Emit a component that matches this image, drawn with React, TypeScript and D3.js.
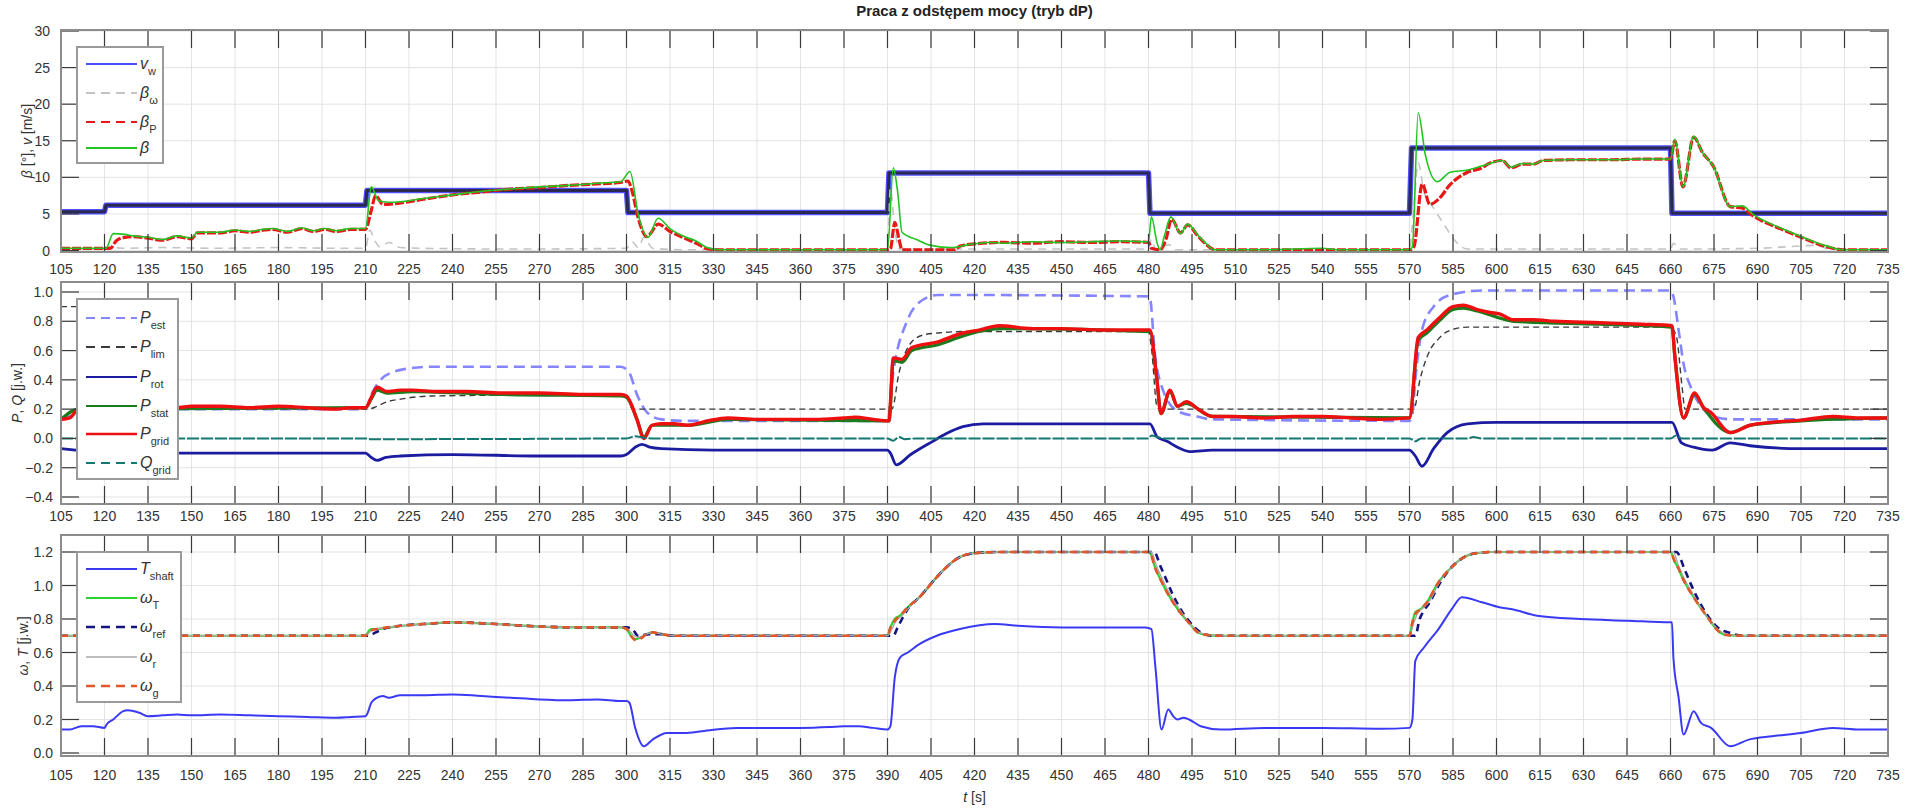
import React from "react";
import * as d3 from "d3";

type P = [number, number];

// ---------- ticks ----------
const xTicks: number[] = d3.range(105, 736, 15);
const topTicks = [0, 5, 10, 15, 20, 25, 30];
const midTicks = [-0.4, -0.2, 0, 0.2, 0.4, 0.6, 0.8, 1.0];
const botTicks = [0, 0.2, 0.4, 0.6, 0.8, 1.0, 1.2];

// ---------- top panel data ----------
const vW: P[] = [[105,5.3],[120,5.3],[120.5,6.2],[210,6.2],[210.5,8.2],[300,8.2],[300.5,5.2],[390,5.2],[390.5,10.6],[480,10.6],[480.5,5.1],[570,5.1],[570.7,14.0],[660,14.0],[660.5,5.1],[735,5.1]];
const betaW: P[] = [[105,0.2],[120,0.2],[122,0.5],[126,0.3],[140,0.4],[160,0.3],[180,0.4],[200,0.3],[210,0.3],[211.5,2.8],[213,1.5],[215,0.5],[218,1.1],[222,0.4],[230,0.3],[260,0.2],[300,0.3],[302,1.2],[304,0.4],[306,1.8],[309,0.3],[320,0.1],[390,0.1],[391,8.5],[392.5,3],[394,0.2],[420,0.2],[480,0.2],[481,1.5],[482.5,0.1],[487,0.8],[489,0.1],[570,0.1],[571.5,6],[573,12],[575,8],[578,6],[582,3.5],[586,1.2],[590,0.2],[660,0.2],[661,1.0],[663,0.2],[690,0.3],[700,0.5],[710,0.7],[715,0.2],[735,0.1]];
const betaP: P[] = [[105,0.3],[121,0.3],[122,0.3],[124,1.3],[127,1.8],[130,1.9],[135,1.7],[140,1.4],[145,1.9],[150,1.6],[152,2.4],[160,2.4],[165,2.7],[170,2.5],[175,2.8],[178,2.9],[183,2.5],[188,3.0],[192,2.6],[196,2.9],[200,2.6],[205,2.9],[210,2.9],[212,5.5],[213.5,7.5],[216,6.3],[220,6.4],[230,7.0],[240,7.6],[250,8.0],[260,8.4],[270,8.6],[280,8.9],[290,9.1],[298,9.3],[300.5,9.5],[302,8],[304,4.5],[307,1.9],[311,3.6],[315,2.6],[320,1.7],[325,0.8],[328,0.2],[332,0.1],[390,0.1],[391,0.2],[392.5,3.8],[394,1.5],[395,0.1],[413,0.1],[415,0.6],[420,0.9],[430,1.1],[440,1.0],[450,1.2],[460,1.1],[470,1.2],[480,1.1],[481,0.3],[484,0.1],[486,1.5],[488,4.3],[491,2.4],[493.5,3.5],[497,2.0],[500,0.8],[503,0.1],[570,0.1],[571.5,0.5],[574.4,9.1],[577,6.3],[580,7.0],[584,9.0],[590,10.7],[595,11.3],[597,11.8],[602,12.3],[605,11.3],[609,11.8],[612.6,11.8],[616,12.3],[625,12.4],[640,12.4],[650,12.5],[660,12.5],[661.5,15.0],[664.3,8.7],[668,15.5],[671,13.4],[674.8,11.5],[680.6,6.0],[684.7,5.8],[688.6,4.7],[699,2.8],[705.7,1.7],[714,0.5],[719.5,0.1],[735,0.1]];
const beta: P[] = [[105,0.3],[120,0.3],[120.5,0.3],[123,2.3],[127,2.2],[130,2.0],[135,1.8],[140,1.5],[145,2.0],[150,1.7],[152,2.5],[160,2.5],[165,2.8],[170,2.6],[175,2.9],[178,3.0],[183,2.6],[188,3.1],[192,2.7],[196,3.0],[200,2.7],[205,3.0],[210,3.0],[212,8.7],[214.5,6.8],[218,6.6],[220,6.6],[230,7.1],[240,7.6],[250,8.1],[260,8.4],[270,8.7],[280,8.9],[290,9.2],[298,9.4],[301.2,10.8],[304,5],[307.4,1.8],[310.9,4.4],[315,3.0],[320,1.9],[324,1.3],[327.8,0.4],[332,0.1],[390,0.1],[392,11.3],[393.5,8],[395,2.5],[400,1.5],[405,0.7],[412,0.4],[418,0.8],[425,1.1],[430,1.0],[440,1.2],[450,1.1],[460,1.2],[470,1.3],[480,1.2],[481,4.6],[483,1.0],[484,0.1],[485.5,2],[487.7,4.6],[491,2.3],[493.5,3.6],[497,2.1],[500,0.9],[502.5,0.1],[520,0.1],[540,0.3],[545,0.1],[570,0.1],[571,0.5],[573,18.8],[575.5,13],[579.6,9.4],[584,10.7],[590,11.0],[597,11.8],[602,12.3],[605,11.4],[609,11.9],[612.6,11.8],[616,12.3],[625,12.4],[640,12.4],[650,12.5],[660,12.5],[661.5,15.2],[664.3,8.7],[668,15.6],[671,13.4],[674.8,11.5],[680.6,6.0],[684.7,6.1],[688.6,4.9],[699,2.9],[705.7,1.8],[714,0.6],[719.5,0.1],[735,0.1]];

// ---------- middle panel data ----------
const pEst: P[] = [[105,0.13],[108,0.15],[112,0.19],[116,0.2],[210,0.2],[212,0.3],[215.7,0.41],[219,0.45],[222.6,0.47],[233,0.49],[298,0.49],[300.9,0.45],[303.6,0.3],[307,0.18],[312,0.13],[320,0.12],[390,0.12],[392,0.45],[396.7,0.8],[401,0.93],[407.4,0.98],[480,0.97],[480.5,0.96],[482.2,0.58],[485,0.33],[489.8,0.19],[496.7,0.15],[502,0.13],[570,0.12],[570.9,0.15],[572,0.4],[574.3,0.74],[578.3,0.9],[584,0.98],[595,1.01],[660,1.01],[661,0.97],[662.8,0.74],[664.5,0.51],[667,0.35],[670.5,0.22],[674.8,0.15],[681.6,0.13],[735,0.13]];
const pLim: P[] = [[105,0.9],[112,0.9],[113,0.2],[210,0.2],[211,0.2],[214,0.22],[217.4,0.25],[222.6,0.27],[233,0.29],[300,0.3],[301,0.25],[302,0.2],[390,0.2],[391.5,0.2],[394,0.45],[398.4,0.66],[403,0.71],[407.4,0.72],[416,0.73],[480,0.73],[481,0.62],[483,0.21],[484,0.2],[570,0.2],[571.5,0.2],[573.6,0.4],[577,0.6],[580,0.68],[583,0.73],[590,0.76],[660,0.76],[662,0.7],[664,0.35],[665,0.2],[735,0.2]];
const pRot: P[] = [[105,-0.07],[110,-0.08],[115,-0.09],[125,-0.1],[150,-0.1],[180,-0.1],[200,-0.1],[210,-0.1],[212,-0.13],[214,-0.15],[217,-0.13],[222,-0.12],[240,-0.11],[270,-0.12],[298,-0.12],[300,-0.11],[303,-0.06],[305.3,-0.04],[308,-0.06],[312,-0.07],[330,-0.08],[390,-0.08],[391,-0.1],[393,-0.18],[398,-0.11],[405.6,-0.02],[410,0.03],[416,0.08],[423,0.1],[480.5,0.1],[483,0.01],[486.4,-0.02],[490,-0.06],[494.3,-0.09],[502,-0.08],[570,-0.08],[572,-0.12],[574.3,-0.19],[578.3,-0.07],[583,0.04],[590,0.1],[600,0.11],[660.5,0.11],[663.8,-0.03],[668,-0.06],[674.3,-0.08],[680.6,-0.03],[687.4,-0.05],[705,-0.07],[735,-0.07]];
const pStat: P[] = [[105,0.13],[111,0.2],[210,0.21],[212,0.27],[214,0.33],[217.4,0.31],[226,0.32],[257,0.3],[298,0.29],[300,0.28],[303.6,0.13],[306,0.01],[308.8,0.09],[321,0.09],[335,0.13],[390.5,0.12],[392,0.53],[395,0.52],[398.4,0.6],[407.4,0.64],[416,0.7],[421.5,0.73],[428.5,0.75],[480.5,0.73],[482.9,0.4],[484.3,0.17],[487.4,0.32],[490,0.22],[493,0.24],[502,0.15],[570,0.14],[573,0.67],[576,0.72],[580.6,0.81],[585,0.88],[588.6,0.89],[593.4,0.87],[605.9,0.8],[635.6,0.78],[660.5,0.76],[661.5,0.56],[664.5,0.14],[668.3,0.3],[671.4,0.21],[680.6,0.04],[687.4,0.09],[705,0.12],[735,0.14]];
const pGrid: P[] = [[105,0.13],[108,0.14],[111,0.2],[115,0.21],[125,0.21],[135,0.22],[145,0.21],[150,0.22],[160,0.22],[170,0.21],[180,0.22],[190,0.21],[200,0.2],[205,0.21],[210,0.21],[212,0.28],[214,0.35],[217.4,0.32],[222,0.33],[226,0.33],[235,0.32],[245,0.32],[257,0.31],[270,0.31],[285,0.3],[298,0.3],[300,0.29],[303.6,0.13],[306,0.0],[308.8,0.09],[312,0.1],[316,0.1],[321,0.09],[328,0.12],[335,0.14],[345,0.13],[355,0.13],[365,0.13],[375,0.14],[379,0.145],[385,0.13],[390.5,0.12],[392,0.55],[395,0.54],[398.4,0.62],[407.4,0.66],[416,0.72],[421.5,0.74],[428.5,0.77],[440,0.75],[450,0.75],[465,0.74],[475,0.74],[480.5,0.74],[482.9,0.4],[484.3,0.17],[487.4,0.33],[490,0.22],[493,0.25],[497.8,0.19],[502,0.15],[509,0.15],[520,0.14],[530,0.15],[540,0.15],[550,0.14],[560,0.13],[570,0.14],[573,0.69],[576,0.74],[580.6,0.83],[585,0.9],[588.6,0.91],[593.4,0.88],[597.8,0.86],[601,0.85],[605.9,0.81],[612.6,0.81],[620,0.8],[635.6,0.79],[650,0.78],[660.5,0.77],[661.5,0.56],[664.5,0.14],[668.3,0.31],[671.4,0.21],[673.8,0.18],[680.6,0.04],[687.4,0.09],[695,0.11],[705,0.125],[716,0.15],[725,0.14],[735,0.14]];
const qGrid: P[] = [[105,0],[210,0],[212,-0.005],[300,0],[303,0.015],[306,0.005],[310,0],[390,0],[392,-0.015],[394,0.01],[396,-0.005],[400,0],[480,0],[481,0.02],[483,0.01],[485,0],[570,0],[572,-0.02],[574,0],[590,0],[592,0.01],[595,0],[660,0],[662,0.02],[664,0],[735,0]];

// ---------- bottom panel data ----------
const tShaft: P[] = [[105,0.14],[108,0.14],[112,0.16],[116,0.16],[120,0.15],[120.7,0.17],[123,0.2],[126.5,0.25],[128,0.255],[132,0.24],[135,0.22],[140,0.225],[145,0.23],[150,0.225],[160,0.23],[170,0.225],[180,0.22],[190,0.215],[200,0.21],[205,0.215],[210,0.22],[210.5,0.23],[212,0.3],[214,0.33],[216,0.34],[218,0.33],[222,0.345],[230,0.345],[240,0.35],[250,0.34],[260,0.33],[270,0.32],[280,0.315],[290,0.32],[298,0.31],[300,0.31],[301,0.3],[303,0.15],[306,0.04],[309,0.08],[314,0.12],[320,0.12],[326,0.13],[338,0.15],[350,0.15],[360,0.15],[370,0.155],[375,0.16],[380,0.16],[385,0.15],[390,0.14],[391,0.16],[392.5,0.45],[394.3,0.57],[397,0.6],[401,0.65],[407,0.7],[415,0.74],[427,0.77],[435,0.76],[450,0.75],[465,0.75],[479,0.75],[481,0.74],[482.4,0.51],[484.5,0.14],[486.8,0.26],[488.5,0.22],[490,0.2],[492,0.21],[494,0.2],[498,0.16],[505,0.14],[520,0.15],[540,0.15],[560,0.145],[570,0.15],[571,0.2],[572,0.55],[575,0.63],[580,0.74],[585,0.87],[588,0.93],[595,0.9],[601,0.87],[605,0.86],[614,0.82],[629,0.8],[645,0.79],[660,0.78],[660.5,0.78],[661,0.57],[662.8,0.33],[664.5,0.11],[668,0.25],[670.5,0.18],[674,0.15],[680.6,0.04],[687,0.08],[695,0.1],[705,0.12],[716,0.15],[725,0.14],[735,0.14]];
const omegaT: P[] = [[105,0.7],[210,0.7],[211.2,0.73],[212,0.74],[214,0.74],[220,0.755],[230,0.77],[240,0.78],[255,0.77],[270,0.755],[285,0.75],[298,0.75],[300,0.74],[301.5,0.7],[303,0.68],[305,0.69],[307,0.71],[309,0.72],[312,0.71],[316,0.7],[390,0.7],[391,0.75],[392.5,0.8],[394.3,0.82],[397,0.87],[401,0.93],[407,1.05],[411,1.12],[415,1.17],[421,1.195],[430,1.2],[480,1.2],[481,1.18],[482,1.12],[484.3,1.03],[487,0.94],[490,0.86],[494.3,0.77],[497,0.72],[500,0.705],[505,0.7],[570,0.7],[571,0.78],[572,0.84],[574,0.86],[576,0.9],[580,1.02],[584,1.1],[588,1.16],[592,1.19],[598,1.2],[660,1.2],[661.5,1.14],[662.8,1.1],[664,1.05],[668,0.93],[672.8,0.81],[677,0.72],[679,0.705],[685,0.7],[735,0.7]];
const omegaRef: P[] = [[105,0.7],[211,0.7],[213.5,0.72],[216,0.74],[220,0.755],[230,0.77],[240,0.78],[255,0.77],[270,0.755],[285,0.75],[300,0.75],[302,0.74],[304,0.7],[308,0.71],[312,0.71],[316,0.7],[392,0.7],[393.5,0.75],[395,0.8],[397,0.86],[401,0.93],[407,1.05],[411,1.12],[415,1.17],[421,1.195],[430,1.2],[482,1.2],[484,1.12],[486,1.04],[488,0.96],[491,0.86],[494.3,0.78],[498,0.72],[502,0.7],[572,0.7],[573.5,0.8],[575,0.85],[577,0.9],[580,1.0],[584,1.1],[588,1.16],[592,1.19],[598,1.2],[662,1.2],[665,1.09],[668,0.97],[672.8,0.82],[677,0.74],[680,0.72],[685,0.7],[735,0.7]];
const omegaR: P[] = [[105,0.7],[210,0.7],[212,0.73],[214,0.74],[220,0.755],[230,0.77],[240,0.78],[255,0.77],[270,0.755],[285,0.75],[298,0.75],[300,0.745],[302,0.71],[304,0.69],[307,0.71],[309,0.72],[312,0.71],[316,0.7],[390,0.7],[391.5,0.74],[393,0.79],[395,0.82],[397,0.86],[401,0.93],[407,1.05],[411,1.12],[415,1.17],[421,1.195],[430,1.2],[481,1.2],[482.5,1.13],[485,1.03],[488,0.93],[491,0.85],[494.3,0.77],[497.5,0.72],[501,0.705],[505,0.7],[570,0.7],[571.5,0.78],[573,0.84],[575,0.87],[577,0.91],[580,1.01],[584,1.1],[588,1.16],[592,1.19],[598,1.2],[661,1.2],[662.5,1.13],[664.5,1.05],[668,0.94],[672.8,0.81],[677,0.73],[680,0.705],[685,0.7],[735,0.7]];
const omegaG: P[] = [[105,0.7],[210,0.7],[211.2,0.72],[212.5,0.735],[214,0.74],[220,0.755],[230,0.77],[240,0.78],[255,0.77],[270,0.755],[285,0.75],[298,0.75],[300,0.74],[301.5,0.7],[303,0.675],[305,0.685],[307,0.71],[309,0.72],[312,0.71],[316,0.7],[390,0.7],[391,0.75],[392.5,0.79],[394.3,0.82],[397,0.87],[401,0.93],[407,1.05],[411,1.12],[415,1.17],[421,1.195],[430,1.2],[480,1.2],[481,1.18],[482,1.12],[484.3,1.03],[487,0.94],[490,0.86],[494.3,0.77],[497,0.72],[500,0.705],[505,0.7],[570,0.7],[571,0.78],[572,0.83],[574,0.86],[576,0.9],[580,1.02],[584,1.1],[588,1.16],[592,1.19],[598,1.2],[660,1.2],[661.5,1.14],[662.8,1.1],[664,1.05],[668,0.93],[672.8,0.81],[677,0.72],[679,0.705],[685,0.7],[735,0.7]];

// ---------- layout ----------
const W = 1917, H = 809;
const L = 61, R = 1888;
const FONT = "Arial, 'Liberation Sans', Helvetica, sans-serif";
const TXT = "#333333";
const TICKLEN = 18;

const x = d3.scaleLinear().domain([105, 735]).range([L, R]);

type Panel = {
  top: number; bottom: number;
  y: d3.ScaleLinear<number, number>;
  ticks: number[]; fmt: (v: number) => string;
  labelRight: number; xLabelY: number;
};

const panels: Panel[] = [
  { top: 30, bottom: 252, y: d3.scaleLinear().domain([0, 30]).range([250.5, 31]), ticks: topTicks, fmt: d3.format("d"), labelRight: 50, xLabelY: 269 },
  { top: 282, bottom: 504, y: d3.scaleLinear().domain([-0.4, 1.0]).range([497, 292]), ticks: midTicks, fmt: d3.format(".1f"), labelRight: 53, xLabelY: 516 },
  { top: 535, bottom: 756, y: d3.scaleLinear().domain([0, 1.2]).range([753, 552]), ticks: botTicks, fmt: d3.format(".1f"), labelRight: 53, xLabelY: 775 },
];

type Style = { color: string; width: number; dash?: string; opacity?: number };
type Series = { data: P[]; style: Style; curve?: d3.CurveFactory };

const topSeries: Series[] = [
  { data: vW, style: { color: "#5050ff", width: 5.5 }, curve: d3.curveLinear },
  { data: vW, style: { color: "#2a2a50", width: 3 }, curve: d3.curveLinear },
  { data: betaW, style: { color: "#c4c4c4", width: 1.6, dash: "8,6" } },
  { data: betaP, style: { color: "#e81818", width: 3.2, dash: "9,2" } },
  { data: beta, style: { color: "#22c422", width: 1.6 } },
];
const midSeries: Series[] = [
  { data: pEst, style: { color: "#8585ff", width: 2.6, dash: "11,6" } },
  { data: pLim, style: { color: "#3a3a3a", width: 1.4, dash: "6,4" } },
  { data: pRot, style: { color: "#1c1ca0", width: 2.8 } },
  { data: pStat, style: { color: "#1d7a1d", width: 3.2 } },
  { data: pGrid, style: { color: "#ee1010", width: 3.4 } },
  { data: qGrid, style: { color: "#147872", width: 2, dash: "12,2" } },
];
const botSeries: Series[] = [
  { data: tShaft, style: { color: "#3a3af5", width: 2 } },
  { data: omegaT, style: { color: "#2ed12e", width: 2.2 } },
  { data: omegaRef, style: { color: "#14147e", width: 2.6, dash: "7,5" } },
  { data: omegaR, style: { color: "#a8a8a8", width: 1.4 } },
  { data: omegaG, style: { color: "#e2562a", width: 2.6, dash: "7,5" } },
];

type LegItem = { main: string; sub: string; mainItalic: boolean; color: string; width: number; dash?: string; y: number };

const topLegend: LegItem[] = [
  { main: "v", sub: "w", mainItalic: true, color: "#4d4dff", width: 2, y: 64 },
  { main: "β", sub: "ω", mainItalic: true, color: "#c4c4c4", width: 2, dash: "9,6", y: 93 },
  { main: "β", sub: "P", mainItalic: true, color: "#e81818", width: 2, dash: "9,6", y: 122 },
  { main: "β", sub: "", mainItalic: true, color: "#22c422", width: 2, y: 148 },
];
const midLegend: LegItem[] = [
  { main: "P", sub: "est", mainItalic: true, color: "#8585ff", width: 2, dash: "9,6", y: 318 },
  { main: "P", sub: "lim", mainItalic: true, color: "#3a3a3a", width: 2, dash: "9,6", y: 347 },
  { main: "P", sub: "rot", mainItalic: true, color: "#1c1ca0", width: 2, y: 377 },
  { main: "P", sub: "stat", mainItalic: true, color: "#1d7a1d", width: 2, y: 406 },
  { main: "P", sub: "grid", mainItalic: true, color: "#ee1010", width: 2.5, y: 434 },
  { main: "Q", sub: "grid", mainItalic: true, color: "#147872", width: 2, dash: "9,6", y: 463 },
];
const botLegend: LegItem[] = [
  { main: "T", sub: "shaft", mainItalic: true, color: "#3a3af5", width: 2, y: 569 },
  { main: "ω", sub: "T", mainItalic: true, color: "#2ed12e", width: 2, y: 598 },
  { main: "ω", sub: "ref", mainItalic: true, color: "#14147e", width: 2.6, dash: "9,6", y: 627 },
  { main: "ω", sub: "r", mainItalic: true, color: "#a8a8a8", width: 1.5, y: 657 },
  { main: "ω", sub: "g", mainItalic: true, color: "#e2562a", width: 2.6, dash: "9,6", y: 686 },
];

const legendBoxes = [
  { x0: 77, x1: 163, y0: 47, y1: 163, items: topLegend },
  { x0: 77, x1: 178, y0: 299, y1: 479, items: midLegend },
  { x0: 77, x1: 181, y0: 552, y1: 702, items: botLegend },
];

function PanelView({ p, series, idx }: { p: Panel; series: Series[]; idx: number }) {
  const clipId = `clip${idx}`;
  return (
    <g>
      <defs>
        <clipPath id={clipId}>
          <rect x={L} y={p.top} width={R - L} height={p.bottom - p.top} />
        </clipPath>
      </defs>
      <rect x={L} y={p.top} width={R - L} height={p.bottom - p.top} fill="#ffffff" />
      {xTicks.map((t) => (
        <line key={"gx" + t} x1={x(t)} x2={x(t)} y1={p.top} y2={p.bottom} stroke="#e3e3e3" strokeWidth={1} />
      ))}
      {p.ticks.map((v) => (
        <line key={"gy" + v} x1={L} x2={R} y1={p.y(v)} y2={p.y(v)} stroke="#e3e3e3" strokeWidth={1} />
      ))}
      <g clipPath={`url(#${clipId})`}>
        {series.map((s, i) => {
          const gen = d3.line<P>().x((d) => x(d[0])).y((d) => p.y(d[1])).curve(s.curve ?? d3.curveMonotoneX);
          return (
            <path key={i} d={gen(s.data) ?? ""} fill="none" stroke={s.style.color} strokeWidth={s.style.width}
              strokeDasharray={s.style.dash} strokeLinejoin="round" />
          );
        })}
      </g>
      {xTicks.map((t) => (
        <g key={"tx" + t}>
          <line x1={x(t)} x2={x(t)} y1={p.bottom} y2={p.bottom - TICKLEN} stroke="#3a3a3a" strokeWidth={1.2} />
          <line x1={x(t)} x2={x(t)} y1={p.top} y2={p.top + TICKLEN} stroke="#3a3a3a" strokeWidth={1.2} />
          <text x={x(t)} y={p.xLabelY + 5} textAnchor="middle" fontSize={14} fill={TXT} fontFamily={FONT}>{t}</text>
        </g>
      ))}
      {p.ticks.map((v) => (
        <g key={"ty" + v}>
          <line x1={L} x2={L + TICKLEN} y1={p.y(v)} y2={p.y(v)} stroke="#3a3a3a" strokeWidth={1.2} />
          <line x1={R} x2={R - TICKLEN} y1={p.y(v)} y2={p.y(v)} stroke="#3a3a3a" strokeWidth={1.2} />
          <text x={p.labelRight} y={p.y(v) + 5} textAnchor="end" fontSize={14} fill={TXT} fontFamily={FONT}>{p.fmt(v)}</text>
        </g>
      ))}
      <rect x={L} y={p.top} width={R - L} height={p.bottom - p.top} fill="none" stroke="#8c8c8c" strokeWidth={2} />
    </g>
  );
}

function LegendView({ box }: { box: typeof legendBoxes[number] }) {
  return (
    <g>
      <rect x={box.x0} y={box.y0} width={box.x1 - box.x0} height={box.y1 - box.y0} fill="#ffffff" stroke="#9a9a9a" strokeWidth={2} />
      {box.items.map((it, i) => (
        <g key={i}>
          <line x1={86} x2={137} y1={it.y} y2={it.y} stroke={it.color} strokeWidth={it.width} strokeDasharray={it.dash} />
          <text x={140} y={it.y + 5} fontSize={16} fill={TXT} fontFamily={FONT}>
            <tspan fontStyle={it.mainItalic ? "italic" : "normal"}>{it.main}</tspan>
            {it.sub ? <tspan fontSize={11} dy={6}>{it.sub}</tspan> : null}
          </text>
        </g>
      ))}
    </g>
  );
}

export default function App() {
  const seriesList = [topSeries, midSeries, botSeries];
  return (
    <svg width={W} height={H} style={{ display: "block", position: "absolute", left: 0, top: 0, background: "#ffffff" }}>
      <rect x={0} y={0} width={W} height={H} fill="#ffffff" />
      <text x={(L + R) / 2} y={16} textAnchor="middle" fontSize={15} fontWeight="bold" fill="#222" fontFamily={FONT}>
        Praca z odstępem mocy (tryb dP)
      </text>
      {panels.map((p, i) => (
        <PanelView key={i} p={p} series={seriesList[i]} idx={i} />
      ))}
      {legendBoxes.map((b, i) => (
        <LegendView key={i} box={b} />
      ))}
      <text transform={`translate(32,141) rotate(-90)`} textAnchor="middle" fontSize={14} fill={TXT} fontFamily={FONT}>
        <tspan fontStyle="italic">β</tspan> [°], <tspan fontStyle="italic">v</tspan> [m/s]
      </text>
      <text transform={`translate(22,393) rotate(-90)`} textAnchor="middle" fontSize={14} fill={TXT} fontFamily={FONT}>
        <tspan fontStyle="italic">P</tspan>, <tspan fontStyle="italic">Q</tspan> [j.w.]
      </text>
      <text transform={`translate(28,646) rotate(-90)`} textAnchor="middle" fontSize={14} fill={TXT} fontFamily={FONT}>
        <tspan fontStyle="italic">ω</tspan>, <tspan fontStyle="italic">T</tspan> [j.w.]
      </text>
      <text x={(L + R) / 2} y={802} textAnchor="middle" fontSize={14} fill={TXT} fontFamily={FONT}>
        <tspan fontStyle="italic">t</tspan> [s]
      </text>
    </svg>
  );
}
